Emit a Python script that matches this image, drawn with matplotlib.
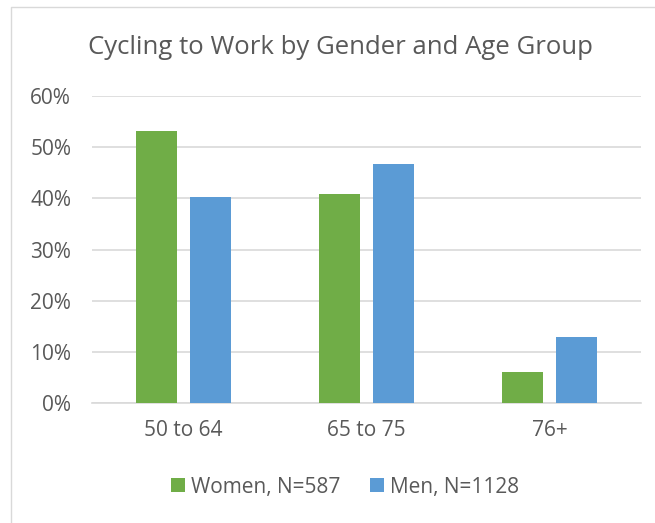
import matplotlib.pyplot as plt
import numpy as np
from matplotlib.lines import Line2D

groups = ['50 to 64', '65 to 75', '76+']
women = [53.1, 40.8, 6.0]
men = [40.2, 46.7, 12.9]
series_names = ['Women, N=587', 'Men, N=1128']

plt.rcParams['font.family'] = ['Open Sans', 'DejaVu Sans']
txt = '#595959'

fig = plt.figure(figsize=(6.55, 5.23), dpi=100)
ax = fig.add_axes([92 / 655, (523 - 403) / 523, 549 / 655, 307 / 523])

x = np.arange(len(groups))
w = 0.224
off = 0.145
ax.bar(x - off, women, w, color='#70AD47', label=series_names[0], zorder=3)
ax.bar(x + off, men, w, color='#5B9BD5', label=series_names[1], zorder=3)

ax.set_xlim(-0.5, 2.5)
ax.set_ylim(0, 60)
ax.set_yticks(range(0, 61, 10))
ax.set_yticklabels([f'{v}%' for v in range(0, 61, 10)])
ax.set_xticks(x)
ax.set_xticklabels(groups)
ax.yaxis.grid(True, color='#D9D9D9', linewidth=1.2, zorder=0)
for s in ['top', 'right', 'left']:
    ax.spines[s].set_visible(False)
ax.spines['bottom'].set_color('#D9D9D9')
ax.spines['bottom'].set_linewidth(1.2)
ax.tick_params(axis='both', length=0, colors=txt, labelsize=15)
ax.tick_params(axis='x', pad=12)
ax.tick_params(axis='y', pad=15)

fig.text(340 / 655, 1 - 47 / 523, 'Cycling to Work by Gender and Age Group',
         ha='center', va='center', fontsize=18.5, color=txt)

leg = fig.legend(loc='center', bbox_to_anchor=(345 / 655, 1 - 487 / 523), ncol=2,
                 frameon=False, fontsize=15, handlelength=0.67, handleheight=0.67,
                 handletextpad=0.3, columnspacing=1.4)
for t in leg.get_texts():
    t.set_color(txt)

# chart border (only left and top edges fall inside the picture)
fig.lines.append(Line2D([11 / 655, 11 / 655, 1], [0, 1 - 7 / 523, 1 - 7 / 523],
                        transform=fig.transFigure, color='#D9D9D9', linewidth=1))

fig.savefig('out.png', dpi=100)
